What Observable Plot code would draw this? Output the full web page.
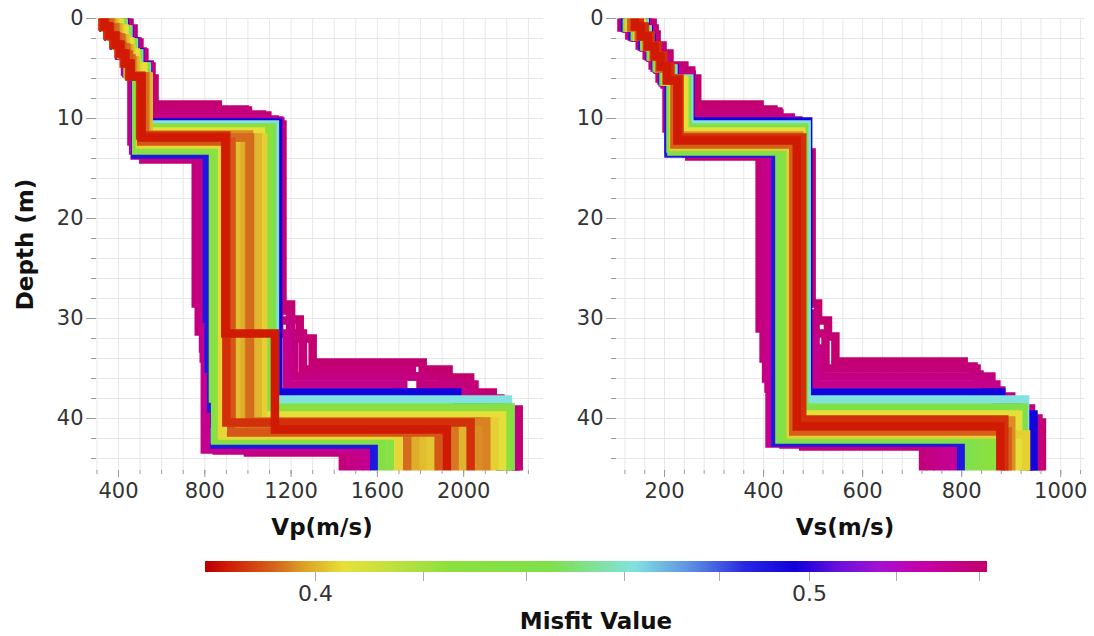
<!DOCTYPE html>
<html><head><meta charset="utf-8">
<script src="https://cdn.jsdelivr.net/npm/d3@7"></script>
<script src="https://cdn.jsdelivr.net/npm/@observablehq/plot@0.6"></script>
<style>
body{margin:0;background:#fff;}
#wrap{position:relative;width:1094px;height:636px;overflow:hidden;font-family:"DejaVu Sans",sans-serif;}
#left{position:absolute;left:0;top:0;}
#right{position:absolute;left:560px;top:0;}
#bar{position:absolute;left:0;top:556px;}
#title{position:absolute;left:205px;width:782px;top:607px;text-align:center;font:bold 23px "DejaVu Sans",sans-serif;color:#111;line-height:28px;}
</style></head><body>
<div id="wrap"><div id="left"></div><div id="right"></div><div id="bar"></div><div id="title">Misfit Value</div></div>
<script>
// ---- data: each profile = list of [layer top depth (m), velocity (m/s)], drawn worst misfit first ----
const vpMisfit = [0.541,0.539,0.538,0.537,0.536,0.535,0.534,0.533,0.496,0.49,0.462,0.442,0.437,0.43,0.425,0.406,0.404,0.403,0.402,0.401,0.4,0.399,0.396,0.395,0.394,0.393,0.391,0.3865,0.384];
const vpLayers = [
 [[0,451],[1,470],[2.4,497],[3.4,520],[4.8,553],[6,567],[8.6,860],[9.1,985],[9.6,1065],[10.1,1125],[10.6,1160],[28.6,1200],[30.1,1240],[32,1300],[34.4,1810],[35.1,1930],[35.9,2030],[37.4,2135],[38.6,2195],[39.1,2255]],
 [[0,440],[1.1,462],[2.3,488],[3.3,512],[4.6,545],[9.2,1000],[9.7,1090],[10.3,1150],[29.2,1195],[31.5,1255],[35.1,1760],[35.8,1900],[36.6,2050],[38,2170],[39.6,2242]],
 [[0,330],[0.9,352],[1.8,378],[2.7,402],[3.7,430],[5.3,460],[12.3,488],[13.1,515],[14.1,758],[28.5,772],[31.3,795],[34,815],[36.8,835],[39.2,852],[41.2,870],[42.9,1000],[43.4,1440]],
 [[0,432],[1.1,455],[2.3,480],[3.4,505],[4.7,540],[9.8,1080],[10.5,1140],[30.2,1200],[32.4,1215],[35.8,1800],[36.6,1980],[37.9,2110],[39.8,2232]],
 [[0,332],[0.9,355],[1.8,380],[2.7,405],[3.7,435],[5.4,468],[13.2,520],[13.9,782],[29.5,792],[33,812],[37,832],[40.5,855],[43.2,1478]],
 [[0,334],[0.9,356],[1.8,383],[2.7,407],[3.6,438],[5.5,475],[13.7,800],[43.1,1515]],
 [[0,436],[1.1,458],[2.3,484],[3.4,508],[4.7,542],[10.2,1145],[31.5,1180],[36.6,1720],[37.4,2010],[38.5,2120],[39.5,2210]],
 [[0,336],[0.9,358],[1.8,385],[2.7,409],[3.6,440],[5.5,478],[13.5,805],[42.9,1550]],
 [[0,428],[1.1,450],[2.3,476],[3.4,500],[4.7,535],[10.4,1140],[37.4,1970],[38.4,2080],[39.3,2170]],
 [[0,336],[0.9,358],[1.8,385],[2.7,410],[3.6,440],[5.5,478],[13.6,810],[30,818],[35,830],[39,845],[42.6,1585]],
 [[0,424],[1.1,446],[2.4,472],[3.5,496],[4.8,532],[10.6,1125],[38.1,2205]],
 [[0,420],[1.1,442],[2.4,468],[3.5,492],[4.8,528],[10.9,1112],[38.9,2218]],
 [[0,338],[0.9,360],[1.8,388],[2.7,412],[3.6,442],[5.5,482],[13.2,838],[38,848],[42.2,1622]],
 [[0,340],[0.9,362],[1.8,390],[2.7,414],[3.6,444],[5.6,490],[12.9,862],[41.9,1660]],
 [[0,415],[1.1,437],[2.4,463],[3.5,487],[4.9,522],[11,1090],[39.2,2198]],
 [[0,405],[1,428],[2.3,455],[3.4,480],[4.8,515],[11.3,1060],[39.7,2178]],
 [[0,342],[0.9,364],[1.8,392],[2.7,416],[3.6,446],[5.6,500],[12.6,880],[41.7,1698]],
 [[0,385],[0.9,408],[2,435],[3,460],[4.2,485],[5.8,535],[11.9,1070],[40.3,2142]],
 [[0,375],[0.9,398],[2,425],[3,450],[4.2,475],[5.8,530],[11.9,975],[40.9,1848]],
 [[0,380],[0.9,402],[2,430],[3,455],[4.2,480],[5.8,540],[11.9,960],[40.6,1810]],
 [[0,370],[0.9,392],[2,420],[3,445],[4.2,470],[5.8,528],[11.9,1045],[40.5,1995]],
 [[0,372],[0.9,395],[2,422],[3,448],[4.2,472],[5.8,532],[11.9,985],[40.8,1775]],
 [[0,362],[0.9,385],[2,412],[3,438],[4.2,462],[5.8,525],[11.6,1005],[40.3,2068]],
 [[0,365],[0.9,388],[2,415],[3,440],[4.2,465],[5.8,522],[11.9,1010],[40.3,2105]],
 [[0,358],[0.9,380],[1.9,408],[2.9,432],[4,458],[5.8,518],[11.9,925],[40.7,1958]],
 [[0,360],[0.9,382],[1.9,410],[2.9,435],[4,460],[5.8,520],[11.9,1008],[40.8,1738]],
 [[0,345],[0.9,367],[1.8,394],[2.7,418],[3.6,448],[5.7,505],[12.3,922],[41.4,1884]],
 [[0,325],[0.8,348],[1.7,376],[2.6,400],[3.5,424],[4.5,450],[5.8,500],[11.7,900],[40.4,2032]],
 [[0,335],[0.8,358],[1.7,386],[2.6,409],[3.5,432],[4.5,456],[5.8,507],[11.9,895],[31.5,1125],[41.1,1922]]
];
const vsMisfit = [0.541,0.539,0.538,0.537,0.536,0.535,0.534,0.533,0.532,0.496,0.49,0.462,0.445,0.442,0.437,0.43,0.425,0.406,0.403,0.396,0.392,0.3865,0.384];
const vsLayers = [
 [[0,176],[1,180],[1.6,184],[2.7,196],[3.5,210],[4.7,240],[5.2,254],[6,266],[8.6,392],[9.1,420],[9.5,432],[10.2,450],[10.8,462],[11.5,474],[12.2,484],[13.4,497],[28.5,510],[30.2,530],[31.8,545],[34.3,804],[34.8,824],[35.6,836],[36.5,857],[37.5,877],[38.6,905],[39.2,921],[39.9,931],[40.4,962]],
 [[0,170],[1.1,176],[1.8,180],[2.8,192],[3.7,205],[4.9,232],[5.6,255],[9.3,430],[10.1,452],[11,470],[12,486],[29.5,505],[31.5,525],[35,830],[36,850],[37.2,880],[38.5,915],[40,955]],
 [[0,113],[0.9,129],[1.7,150],[2.7,164],[3.7,176],[4.7,190],[6,200],[6.6,206],[10.4,216],[11.2,228],[12,240],[12.8,250],[13.8,392],[31,400],[34,410],[37,420],[39.5,432],[41.3,450],[42.1,480],[42.8,722]],
 [[0,166],[1.1,172],[1.9,178],[2.9,190],[3.8,202],[5,228],[5.8,248],[9.9,455],[11.2,478],[30.5,500],[33,515],[35.8,860],[37.8,900],[39,940]],
 [[0,118],[0.9,134],[1.8,154],[2.8,168],[3.8,180],[4.9,194],[6.2,204],[11,220],[12.2,244],[13.5,405],[36,420],[40.5,440],[42.6,737]],
 [[0,122],[1,138],[1.9,158],[2.9,171],[3.9,184],[5,197],[6.4,208],[13.2,412],[42.5,752]],
 [[0,164],[1.1,170],[1.9,176],[2.9,188],[3.8,200],[5,224],[5.9,250],[10.2,470],[32,505],[36.6,870],[38.2,910],[39.4,935]],
 [[0,125],[1,141],[1.9,160],[2.9,173],[3.9,186],[5.1,199],[6.4,210],[13.1,416],[42.4,767]],
 [[0,127],[1,143],[1.9,161],[2.9,174],[3.9,187],[5.1,200],[6.4,211],[13,418],[42.3,783]],
 [[0,162],[1.1,168],[1.9,174],[2.9,186],[3.8,198],[5,220],[6,252],[10.3,490],[37.4,880],[38.5,910],[39.6,945]],
 [[0,120],[0.9,136],[1.8,156],[2.8,170],[3.8,182],[4.9,196],[6.3,208],[13.5,424],[42.4,799]],
 [[0,160],[1.1,166],[1.9,172],[2.9,184],[3.8,196],[5,218],[6,250],[10.6,487],[38.1,928]],
 [[0,124],[0.9,140],[1.8,159],[2.8,172],[3.8,184],[4.9,198],[6.3,212],[13,432],[42.1,815]],
 [[0,157],[1.1,163],[1.9,170],[2.9,182],[3.8,194],[5,214],[6.1,246],[10.9,482],[38.9,925]],
 [[0,126],[0.9,142],[1.8,161],[2.8,174],[3.8,186],[4.9,200],[6.3,214],[13.3,440],[41.9,831]],
 [[0,128],[0.9,144],[1.8,162],[2.8,176],[3.8,188],[5,202],[6.3,216],[12.9,448],[41.6,847]],
 [[0,135],[0.9,150],[1.8,166],[2.8,180],[3.8,192],[5,208],[6.2,230],[12.2,470],[40.6,863]],
 [[0,154],[1,160],[1.8,168],[2.8,180],[3.8,192],[5,212],[6.1,240],[11.3,476],[39.6,914]],
 [[0,128],[0.9,145],[1.8,163],[2.8,177],[3.8,189],[5,203],[6.3,218],[12.8,455],[41.6,930]],
 [[0,148],[1,156],[1.8,166],[2.8,178],[3.8,190],[5,208],[6.1,230],[11.7,472],[40.2,900]],
 [[0,133],[0.9,148],[1.8,164],[2.8,178],[3.8,190],[5,204],[6.2,220],[12.6,460],[41.3,893]],
 [[0,150],[0.8,160],[1.7,172],[2.7,186],[3.7,198],[4.8,212],[6,230],[11.9,478],[40.1,886]],
 [[0,140],[0.8,152],[1.8,166],[2.8,180],[3.8,192],[4.8,205],[6.2,226],[12.2,467],[40.8,878]]
];
const maxDepth = 45.2;
const vpGrid = [300,400,500,600,700,800,900,1000,1100,1200,1300,1400,1500,1600,1700,1800,1900,2000,2100,2200,2300];
const vpLabelTicks = [400,800,1200,1600,2000];
const vsGrid = [120,160,200,240,280,320,360,400,440,480,520,560,600,640,680,720,760,800,840,880,920,960,1000,1040];
const vsLabelTicks = [200,400,600,800,1000];
const depthGrid = [0,2,4,6,8,10,12,14,16,18,20,22,24,26,28,30,32,34,36,38,40,42,44];
const depthLabelTicks = [0,10,20,30,40];
const misfitTicks = [0.4,0.42,0.44,0.46,0.48,0.5,0.52,0.54];
const misfitLabels = [0.4,0.5];
const misfitRange = [0.3806,0.5419];
const colorStops = [0.3806,0.384,0.392,0.398,0.405,0.415,0.425,0.445,0.462,0.474,0.486,0.497,0.507,0.517,0.527,0.5419];
const colorStopColors = ["#b80000","#d01a04","#d4601a","#dca428","#e8e038","#bce040","#8ce03e","#7ee04c","#82e2e0","#5c90e2","#2828e0","#1000dc","#6a10dc","#a810d0","#c600a8","#c2006c"];

// ---- build ----
const stopScale = d3.scaleLinear().domain(colorStops).range(colorStopColors).interpolate(d3.interpolateRgb).clamp(true);
const [lo, hi] = misfitRange;
const interp = t => stopScale(lo * Math.pow(hi / lo, t));
const colorOpts = {type: "log", domain: misfitRange, interpolate: interp};

function toRows(layers, misfits) {
  const rows = [];
  layers.forEach((layer, i) => {
    layer.forEach(([top, v], k) => {
      const bottom = k + 1 < layer.length ? layer[k + 1][0] : maxDepth;
      rows.push({id: i, misfit: misfits[i], v, d: top});
      rows.push({id: i, misfit: misfits[i], v, d: bottom});
    });
  });
  return rows;
}

function panel({rows, xDomain, width, marginLeft, marginRight, grid, labelTicks, xTitle, titleDx, depthTitle}) {
  const marks = [
    Plot.gridX(grid, {stroke: "#e7e7e7", strokeOpacity: 1}),
    Plot.gridY(depthGrid, {stroke: "#e7e7e7", strokeOpacity: 1}),
    Plot.line(rows, {x: "v", y: "d", z: "id", stroke: "misfit", strokeWidth: 8.5, strokeLinejoin: "miter", strokeLinecap: "butt", strokeMiterlimit: 20}),
    Plot.axisX(grid, {anchor: "bottom", tickSize: 4, tickFormat: () => "", stroke: "#999", label: null}),
    Plot.axisX(labelTicks, {anchor: "bottom", tickSize: 7, tickPadding: 6, fontSize: 21, stroke: "#999", tickFormat: d => String(d), label: null}),
    Plot.axisY(depthGrid, {anchor: "left", tickSize: 5, tickFormat: () => "", stroke: "#999", label: null}),
    Plot.axisY(depthLabelTicks, {anchor: "left", tickSize: 10, tickPadding: 3, fontSize: 21, stroke: "#999", tickFormat: d => String(d), label: null}),
    Plot.text([xTitle], {frameAnchor: "bottom", lineAnchor: "middle", textAnchor: "middle", dy: 57, dx: titleDx, text: d => d, fontSize: 23, fontWeight: "bold", fill: "#111"})
  ];
  if (depthTitle) marks.push(Plot.text([depthTitle], {frameAnchor: "left", textAnchor: "middle", lineAnchor: "middle", rotate: -90, dx: -71, text: d => d, fontSize: 23, fontWeight: "bold", fill: "#111"}));
  return Plot.plot({
    width, height: 545, marginLeft, marginRight, marginTop: 18, marginBottom: 75,
    style: {fontFamily: "'DejaVu Sans', sans-serif", color: "#333", background: "transparent", overflow: "visible"},
    x: {domain: xDomain, label: null},
    y: {domain: [0, maxDepth], reverse: true, label: null},
    color: colorOpts,
    marks
  });
}

document.getElementById("left").appendChild(panel({
  rows: toRows(vpLayers, vpMisfit), xDomain: [298, 2370], width: 560, marginLeft: 96, marginRight: 17,
  grid: vpGrid, labelTicks: vpLabelTicks, xTitle: "Vp(m/s)", titleDx: 2, depthTitle: "Depth (m)"
}));
document.getElementById("right").appendChild(panel({
  rows: toRows(vsLayers, vsMisfit), xDomain: [103, 1050], width: 534, marginLeft: 56, marginRight: 9,
  grid: vsGrid, labelTicks: vsLabelTicks, xTitle: "Vs(m/s)", titleDx: -6, depthTitle: null
}));

const legend = Plot.legend({
  color: colorOpts, legend: "ramp", width: 1094, height: 60, marginTop: 5, marginBottom: 44,
  marginLeft: 205, marginRight: 107, ticks: misfitTicks,
  tickFormat: d => misfitLabels.includes(d) ? String(d) : "", tickSize: 8, label: null,
  style: {fontFamily: "'DejaVu Sans', sans-serif", fontSize: "22px", color: "#333", background: "transparent"}
});
d3.select(legend).selectAll(".tick line").attr("y1", 0).attr("y2", 9).attr("stroke", "#aaa");
d3.select(legend).selectAll(".tick text").attr("font-size", 22).attr("y", 13);
document.getElementById("bar").appendChild(legend);
</script>
</body></html>
